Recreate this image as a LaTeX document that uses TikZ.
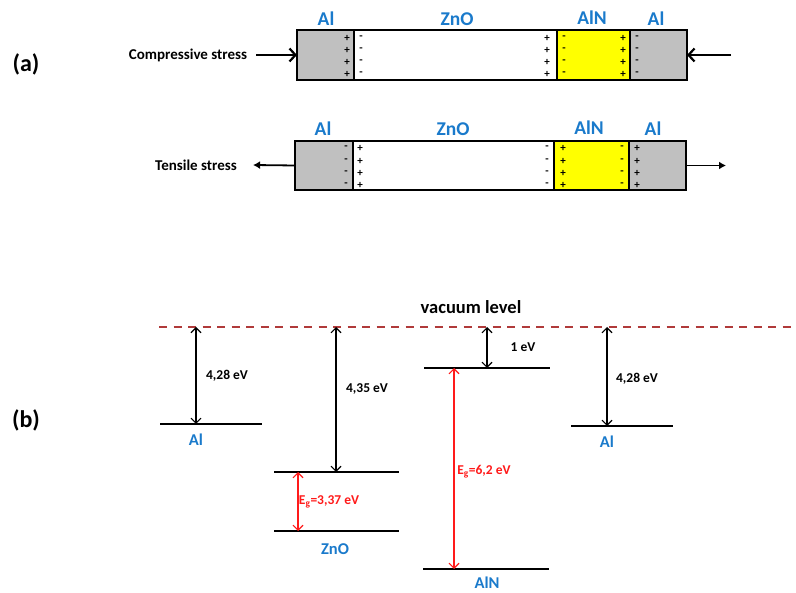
\documentclass[tikz,border=0pt]{standalone}
\usepackage{fontspec}
\setmainfont{Carlito}
\usetikzlibrary{arrows.meta}
\definecolor{lblue}{HTML}{1A7ACB}
\definecolor{metal}{HTML}{C0C0C0}
\definecolor{ylw}{HTML}{FFFF00}
\definecolor{vac}{HTML}{B03A3A}
\definecolor{gapred}{HTML}{FF1A1A}
\tikzset{
  seg/.style={draw, line width=2pt, inner sep=0pt, outer sep=0pt, minimum height=50pt, anchor=north west},
  mat/.style={font=\fontsize{19.5}{21}\selectfont\bfseries, text=lblue, inner sep=0pt},
  lvlmat/.style={font=\fontsize{16.5}{18}\selectfont\bfseries, text=lblue, inner sep=0pt},
  sgn/.style={font=\fontsize{11}{12}\selectfont\bfseries, inner sep=0pt},
  stresslbl/.style={font=\fontsize{15}{17}\selectfont\bfseries, inner sep=1pt},
  panel/.style={font=\fontsize{24}{26}\selectfont\bfseries, inner sep=0pt},
  comparrow/.style={line width=2.2pt, -{Straight Barb[length=6pt,width=13pt,line width=2.2pt]}},
  tensarrow/.style={line width=1.8pt, -{Latex[length=7pt,width=8pt]}},
  level/.style={line width=2.2pt},
  earrow/.style={line width=1.1pt, {Straight Barb[length=5pt,width=10pt]}-{Straight Barb[length=5pt,width=10pt]}},
  evlbl/.style={font=\fontsize{13.5}{15}\selectfont\bfseries, inner sep=0pt},
  gaplbl/.style={font=\fontsize{13.5}{15}\selectfont\bfseries, text=gapred, inner sep=0pt},
}
\begin{document}
\begin{tikzpicture}[x=1pt,y=-1pt]
\useasboundingbox (0,0) rectangle (796,593);

% panel labels
\node[panel] (pa) at (26,64) {(a)};
\node[panel] (pb) at (26,420) {(b)};

% ---------- compressive bar ----------
\node[seg, fill=metal, minimum width=57pt]  (c1) at (297,30) {};
\node[seg, fill=white, minimum width=203pt] (c2) at (354,30) {};
\node[seg, fill=ylw,   minimum width=73pt]  (c3) at (557,30) {};
\node[seg, fill=metal, minimum width=57pt]  (c4) at (630,30) {};
\node[mat] (tAl1) at (326,19) {Al};
\node[mat] (tZnO) at (457,19) {ZnO};
\node[mat] (tAlN) at (592,18) {AlN};
\node[mat] (tAl2) at (656,19) {Al};
\foreach \yy in {38,50,62,74}{
  \node[sgn] at (347,\yy) {+};
  \node[sgn] at (361,\yy) {-};
  \node[sgn] at (547,\yy) {+};
  \node[sgn] at (564,\yy) {-};
  \node[sgn] at (623,\yy) {+};
  \node[sgn] at (637,\yy) {-};
}
\node[stresslbl] (comp) at (188,55) {Compressive stress};
\coordinate (cR) at (731,55);
\draw[comparrow] (comp.east) ++(8,0) -- (c1.west);
\draw[comparrow] (cR) -- (c4.east);

% ---------- tensile bar ----------
\node[seg, fill=metal, minimum width=58pt, minimum height=49pt]  (t1) at (295,141) {};
\node[seg, fill=white, minimum width=201pt, minimum height=49pt] (t2) at (353,141) {};
\node[seg, fill=ylw,   minimum width=75pt, minimum height=49pt]  (t3) at (554,141) {};
\node[seg, fill=metal, minimum width=57pt, minimum height=49pt]  (t4) at (629,141) {};
\node[mat] (bAl1) at (323,129) {Al};
\node[mat] (bZnO) at (453,129) {ZnO};
\node[mat] (bAlN) at (589,128) {AlN};
\node[mat] (bAl2) at (653,129) {Al};
\foreach \yy in {148,161,173,185}{
  \node[sgn] at (346,\yy) {-};
  \node[sgn] at (360,\yy) {+};
  \node[sgn] at (547,\yy) {-};
  \node[sgn] at (563,\yy) {+};
  \node[sgn] at (622,\yy) {-};
  \node[sgn] at (637,\yy) {+};
}
\node[stresslbl] (tens) at (196,165) {Tensile stress};
\coordinate (tR) at (726,165.5);
\draw[tensarrow] (t1.west) -- ([xshift=15pt]tens.east);
\draw[tensarrow] (t4.east) -- (tR);

% ---------- band diagram ----------
\node[font=\fontsize{18.5}{20}\selectfont\bfseries, inner sep=0pt] (vlbl) at (471,307) {vacuum level};
\coordinate (vacL) at (159,327);
\coordinate (vacR) at (796,327);
\draw[vac, line width=2pt, dash pattern=on 8pt off 6.5pt] (vacL) -- (vacR);

% Al left
\coordinate (alLa) at (160,424); \coordinate (alLb) at (262,424);
\draw[level] (alLa) -- (alLb);
\coordinate (alLv) at (196,327); \coordinate (alLe) at (196,424);
\draw[earrow] (alLv) -- (alLe);
\node[evlbl] (e1) at (227,376) {4,28 eV};
\node[lvlmat] (lAl1) at (196,440) {Al};

% ZnO
\coordinate (znCa) at (274,472); \coordinate (znCb) at (399,472);
\coordinate (znVa) at (274,531); \coordinate (znVb) at (399,531);
\draw[level] (znCa) -- (znCb);
\draw[level] (znVa) -- (znVb);
\coordinate (znv) at (336,327); \coordinate (znc) at (336,472);
\draw[earrow] (znv) -- (znc);
\node[evlbl] (e2) at (367,389) {4,35 eV};
\coordinate (zgc) at (298,472); \coordinate (zgv) at (298,531);
\draw[earrow, gapred] (zgc) -- (zgv);
\node[gaplbl] (g1) at (329,502) {E\textsubscript{g}=3,37 eV};
\node[lvlmat] (lZnO) at (335,549) {ZnO};

% AlN
\coordinate (anCa) at (424,368); \coordinate (anCb) at (550,368);
\coordinate (anVa) at (423,569); \coordinate (anVb) at (549,569);
\draw[level] (anCa) -- (anCb);
\draw[level] (anVa) -- (anVb);
\coordinate (anv) at (487,327); \coordinate (anc) at (487,368);
\draw[earrow] (anv) -- (anc);
\node[evlbl] (e3) at (523,347) {1 eV};
\coordinate (agc) at (454,368); \coordinate (agv) at (454,569);
\draw[earrow, gapred] (agc) -- (agv);
\node[gaplbl] (g2) at (484,472) {E\textsubscript{g}=6,2 eV};
\node[lvlmat] (lAlN) at (487,583) {AlN};

% Al right
\coordinate (alRa) at (571,426); \coordinate (alRb) at (673,426);
\draw[level] (alRa) -- (alRb);
\coordinate (alRv) at (607,327); \coordinate (alRe) at (607,426);
\draw[earrow] (alRv) -- (alRe);
\node[evlbl] (e4) at (637,379) {4,28 eV};
\node[lvlmat] (lAl2) at (607,442) {Al};
\end{tikzpicture}
\end{document}
